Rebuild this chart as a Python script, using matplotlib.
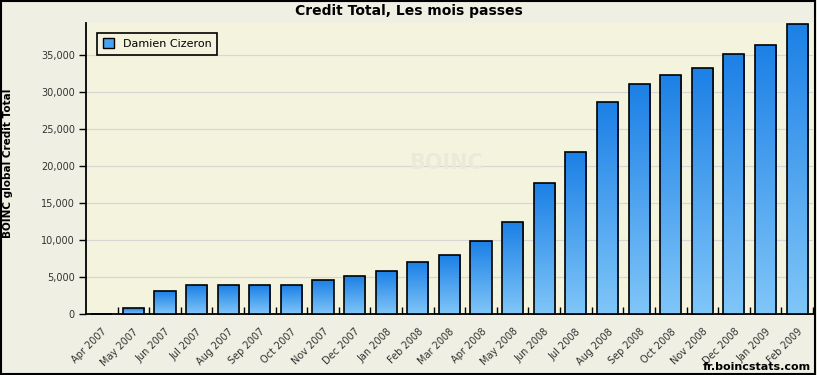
import numpy as np
import matplotlib
matplotlib.use("Agg")
import matplotlib.pyplot as plt
from matplotlib.colors import LinearSegmentedColormap
from matplotlib.patches import Rectangle

mois = ["Apr 2007", "May 2007", "Jun 2007", "Jul 2007", "Aug 2007", "Sep 2007",
        "Oct 2007", "Nov 2007", "Dec 2007", "Jan 2008", "Feb 2008", "Mar 2008",
        "Apr 2008", "May 2008", "Jun 2008", "Jul 2008", "Aug 2008", "Sep 2008",
        "Oct 2008", "Nov 2008", "Dec 2008", "Jan 2009", "Feb 2009"]
credit = [0, 800, 3100, 3900, 3900, 3900, 3900, 4550, 5090, 5770, 6990, 7930,
          9820, 12390, 17700, 21900, 28650, 31080, 32400, 33240, 35230, 36450, 39280]
y_ticks = [0, 5000, 10000, 15000, 20000, 25000, 30000, 35000]

fig = plt.figure(figsize=(8.17, 3.75), dpi=100)
fig.patch.set_facecolor("#efefe4")
ax = fig.add_axes([0.1053, 0.1627, 0.8897, 0.776])
ax.set_facecolor("#f4f4de")

# degrade bleu (haut fonce -> bas clair)
cmap = LinearSegmentedColormap.from_list("bleu", ["#1c80e6", "#80c6f8"])
grad = np.linspace(0, 1, 256).reshape(-1, 1)

x = np.arange(len(mois))
ymax = 39400
bars = ax.bar(x, credit, width=0.67, facecolor="none", edgecolor="black",
              linewidth=1.2, zorder=4, clip_on=False)
for b, v in zip(bars, credit):
    if v <= 0:
        continue
    x0 = b.get_x()
    im = ax.imshow(grad, extent=[x0, x0 + b.get_width(), 0, v], cmap=cmap,
                   aspect="auto", origin="upper", zorder=3)
    im.set_clip_path(b)

ax.set_xlim(-0.5, len(mois) - 0.5)
ax.set_ylim(0, ymax)

# watermark
ax.text(0.495, 0.52, "BOINC", transform=ax.transAxes, fontsize=15,
        fontweight="bold", color="#eaeada", ha="center", va="center", zorder=1)

ax.set_yticks(y_ticks)
ax.set_yticklabels([f"{v:,}" for v in y_ticks], fontsize=7, color="#333333")
ax.yaxis.grid(True, color="#d6d6d6", linewidth=0.9, zorder=0)
ax.set_axisbelow(True)
ax.tick_params(axis="y", direction="out", length=5, width=1, pad=3)

# ticks aux frontieres, labels au centre
ax.set_xticks(x + 0.5, minor=False)
ax.set_xticklabels([])
ax.tick_params(axis="x", which="major", direction="in", length=5, width=1)
ax.set_xticks(x, minor=True)
ax.set_xticklabels(mois, minor=True, rotation=45, ha="right",
                   rotation_mode="anchor", fontsize=7, color="#333333")
ax.tick_params(axis="x", which="minor", length=0, pad=9)

for s in ["top", "right"]:
    ax.spines[s].set_visible(False)
for s in ["left", "bottom"]:
    ax.spines[s].set_linewidth(1.3)

leg_patch = Rectangle((0, 0), 1, 1, facecolor="#4aa3f0", edgecolor="black")
leg = ax.legend([leg_patch], ["Damien Cizeron"], loc="upper left",
                bbox_to_anchor=(0.008, 0.985), fontsize=8, fancybox=False,
                framealpha=1, facecolor="#f4f4de", edgecolor="black",
                handlelength=1.0, handleheight=1.0, borderpad=0.5)
leg.get_frame().set_linewidth(1.2)

fig.text(0.5, 0.972, "Credit Total, Les mois passes", ha="center", va="center",
         fontsize=10, fontweight="bold")
fig.text(0.010, 0.565, "BOINC global Credit Total", rotation=90, ha="center",
         va="center", fontsize=7.5, fontweight="bold")
fig.text(0.992, 0.022, "fr.boincstats.com", ha="right", va="center",
         fontsize=8, fontweight="bold")

fig.add_artist(Rectangle((0.001, 0.002), 0.997, 0.995, transform=fig.transFigure,
                         fill=False, edgecolor="black", linewidth=1.5))

fig.savefig("out.png", dpi=100, facecolor=fig.get_facecolor())
